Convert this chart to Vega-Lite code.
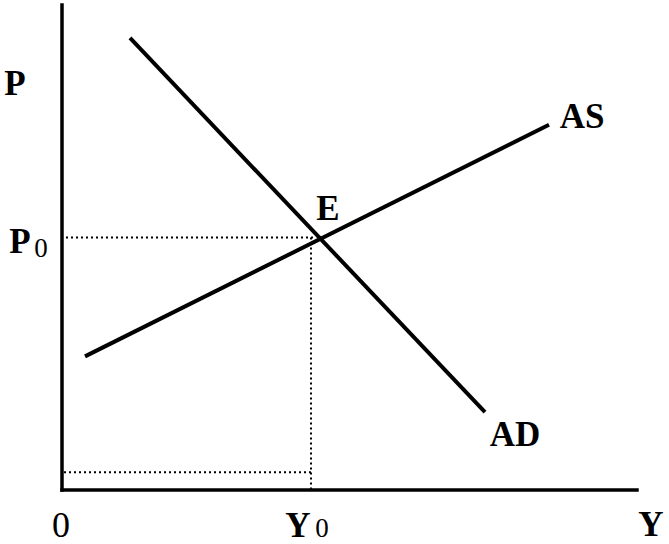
{
  "$schema": "https://vega.github.io/schema/vega-lite/v6.json",
  "width": 669,
  "height": 544,
  "autosize": {"type": "fit", "contains": "padding"},
  "padding": 0,
  "background": "white",
  "config": {"view": {"stroke": null}},
  "datasets": {
    "axes": [
      {"id": "Y axis", "x": 0, "y": 486, "x2": 0, "y2": 0},
      {"id": "X axis", "x": 0, "y": 0, "x2": 575, "y2": 0}
    ],
    "curves": [
      {"id": "AD", "x": 68, "y": 453, "x2": 423, "y2": 78},
      {"id": "AS", "x": 23, "y": 134, "x2": 487, "y2": 366}
    ],
    "guides": [
      {"id": "P0 guide", "x": 4, "y": 253, "x2": 254, "y2": 253},
      {"id": "Y0 guide", "x": 249, "y": 253, "x2": 249, "y2": 0},
      {"id": "low guide", "x": 2, "y": 18, "x2": 249, "y2": 18}
    ],
    "labels": [
      {"label": "P", "x": -47, "y": 396},
      {"label": "P", "x": -42, "y": 238},
      {"label": "Y", "x": 236, "y": -47},
      {"label": "Y", "x": 589, "y": -46},
      {"label": "AS", "x": 520, "y": 363},
      {"label": "AD", "x": 453, "y": 44},
      {"label": "E", "x": 266, "y": 271}
    ],
    "origin": [
      {"label": "0", "x": -1, "y": -47}
    ],
    "subs": [
      {"label": "0", "x": -21, "y": 234},
      {"label": "0", "x": 260, "y": -47}
    ]
  },
  "encoding": {},
  "layer": [
    {
      "data": {"name": "guides"},
      "mark": {"type": "rule", "color": "black", "strokeWidth": 2, "strokeDash": [2, 3]},
      "encoding": {
        "x": {"field": "x", "type": "quantitative", "scale": {"domain": [-62, 607], "nice": false, "zero": false}, "axis": null},
        "y": {"field": "y", "type": "quantitative", "scale": {"domain": [-53, 491], "nice": false, "zero": false}, "axis": null},
        "x2": {"field": "x2"},
        "y2": {"field": "y2"}
      }
    },
    {
      "data": {"name": "axes"},
      "mark": {"type": "rule", "color": "black", "strokeWidth": 3.5, "strokeCap": "square"},
      "encoding": {
        "x": {"field": "x", "type": "quantitative"},
        "y": {"field": "y", "type": "quantitative"},
        "x2": {"field": "x2"},
        "y2": {"field": "y2"}
      }
    },
    {
      "data": {"name": "curves"},
      "mark": {"type": "rule", "color": "black", "strokeWidth": 4},
      "encoding": {
        "x": {"field": "x", "type": "quantitative"},
        "y": {"field": "y", "type": "quantitative"},
        "x2": {"field": "x2"},
        "y2": {"field": "y2"}
      }
    },
    {
      "data": {"name": "labels"},
      "mark": {"type": "text", "font": "Liberation Serif", "fontSize": 35, "fontWeight": "bold", "color": "black", "align": "center", "baseline": "alphabetic"},
      "encoding": {
        "x": {"field": "x", "type": "quantitative"},
        "y": {"field": "y", "type": "quantitative"},
        "text": {"field": "label"}
      }
    },
    {
      "data": {"name": "origin"},
      "mark": {"type": "text", "font": "Liberation Serif", "fontSize": 36, "color": "black", "align": "center", "baseline": "alphabetic"},
      "encoding": {
        "x": {"field": "x", "type": "quantitative"},
        "y": {"field": "y", "type": "quantitative"},
        "text": {"field": "label"}
      }
    },
    {
      "data": {"name": "subs"},
      "mark": {"type": "text", "font": "Liberation Serif", "fontSize": 27, "color": "black", "align": "center", "baseline": "alphabetic"},
      "encoding": {
        "x": {"field": "x", "type": "quantitative"},
        "y": {"field": "y", "type": "quantitative"},
        "text": {"field": "label"}
      }
    }
  ]
}
